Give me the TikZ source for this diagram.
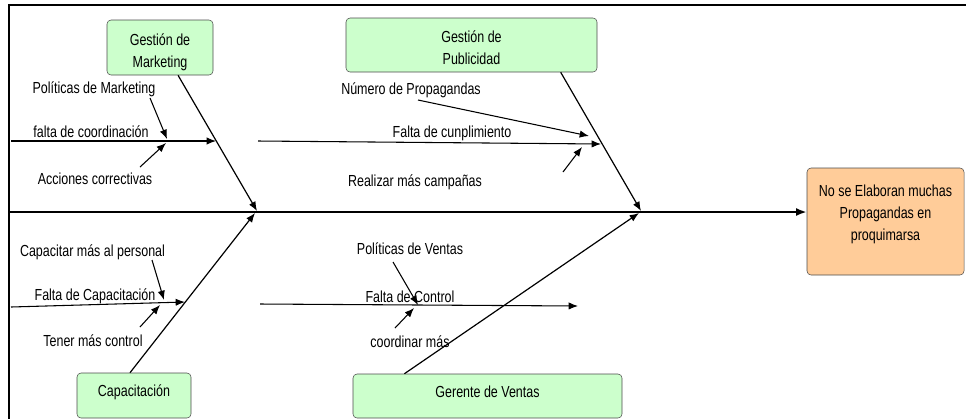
\documentclass[tikz,border=0pt]{standalone}
\usepackage{fontspec}
\setmainfont{Liberation Sans}[FakeStretch=0.78]
\usetikzlibrary{arrows.meta}

\definecolor{causegreen}{HTML}{CCFFCC}
\definecolor{effectorange}{HTML}{FFCC99}

\begin{document}
\begin{tikzpicture}[x=0.75pt,y=-0.75pt,
  font=\fontsize{12}{16.5}\selectfont,
  box/.style={draw=black!70,rounded corners=3pt,align=center,inner sep=0pt},
  causebox/.style={box,fill=causegreen},
  effectbox/.style={box,fill=effectorange},
  spine/.style={line width=1.5pt,-{Latex[length=8pt,width=6pt]}},
  bone/.style={line width=0.9pt,-{Latex[length=7pt,width=5.5pt]}},
  twig/.style={line width=0.8pt,-{Latex[length=7pt,width=5.5pt]}},
  lbl/.style={anchor=base,inner sep=0pt}]
\useasboundingbox (0,0) rectangle (966,419);
\draw[line width=1.5pt] (966,5) -- (9,5) -- (9,419);

\node[causebox,minimum width=79.5pt,minimum height=41.25pt,text height=32.25pt,text depth=3pt] (mkt) at (160,47.5) {Gestión de\\Marketing};
\node[causebox,minimum width=188.25pt,minimum height=40.5pt,text height=31.5pt,text depth=3pt] (pub) at (471.5,45) {Gestión de\\Publicidad};
\node[causebox,minimum width=85.5pt,minimum height=33.75pt,text height=8pt,text depth=6pt] (cap) at (134,395.5) {Capacitación};
\node[causebox,minimum width=201.75pt,minimum height=33pt,text height=8pt,text depth=6pt] (ger) at (487.5,396) {Gerente de Ventas};
\node[effectbox,minimum width=117.75pt,minimum height=80.25pt,text height=30.75pt,text depth=3pt] (eff) at (885.5,221.5) {No se Elaboran muchas\\Propagandas en\\proquimarsa};

\coordinate (sp0) at (10,212);
\draw[spine] (sp0) -- (sp0 -| eff.west);

\coordinate (mkj) at (257,211);
\coordinate (puj) at (641,211);
\coordinate (caj) at (255,213);
\coordinate (gej) at (639,213);
\draw[bone] (mkt.-57) -- (mkj);
\draw[bone] (pub.-17) -- (puj);
\draw[bone] (cap.100) -- (caj);
\draw[bone] (ger.165) -- (gej);

\node[lbl] (polmkt) at (94,93) {Políticas de Marketing};
\node[lbl] (faltacoord) at (91,137) {falta de coordinación};
\node[lbl] (acciones) at (95,184) {Acciones correctivas};
\coordinate (a0) at (11,141);
\coordinate (a1) at (216,141);
\coordinate (a2) at (150,98);
\coordinate (a3) at (167,139);
\coordinate (a4) at (140,167);
\coordinate (a5) at (166,143);
\draw[twig] (a0) -- (a1);
\draw[twig] (a2) -- (a3);
\draw[twig] (a4) -- (a5);

\node[lbl] (numprop) at (411,94) {Número de Propagandas};
\node[lbl] (faltacump) at (452,137) {Falta de cunplimiento};
\node[lbl] (realizar) at (415,186) {Realizar más campañas};
\coordinate (b0) at (258,141);
\coordinate (b1) at (601,144);
\coordinate (b2) at (418,100);
\coordinate (b3) at (589,136);
\coordinate (b4) at (563,172);
\coordinate (b5) at (582,147);
\draw[twig] (b0) -- (b1);
\draw[twig] (b2) -- (b3);
\draw[twig] (b4) -- (b5);

\node[lbl] (capacitar) at (92.5,256) {Capacitar más al personal};
\node[lbl] (faltacap) at (95,300) {Falta de Capacitación};
\node[lbl] (tener) at (93,346) {Tener más control};
\coordinate (c0) at (11,307);
\coordinate (c1) at (185,302);
\coordinate (c2) at (152,260);
\coordinate (c3) at (164,300);
\coordinate (c4) at (140,327);
\coordinate (c5) at (160,305);
\draw[twig] (c0) -- (c1);
\draw[twig] (c2) -- (c3);
\draw[twig] (c4) -- (c5);

\node[lbl] (polven) at (410,254) {Políticas de Ventas};
\node[lbl] (faltacont) at (410,302) {Falta de Control};
\node[lbl] (coordinar) at (410,347) {coordinar más};
\coordinate (d0) at (260,304);
\coordinate (d1) at (578,306);
\coordinate (d2) at (393,262);
\coordinate (d3) at (418,305);
\coordinate (d4) at (395,328);
\coordinate (d5) at (414,308);
\draw[twig] (d0) -- (d1);
\draw[twig] (d2) -- (d3);
\draw[twig] (d4) -- (d5);
\end{tikzpicture}
\end{document}
